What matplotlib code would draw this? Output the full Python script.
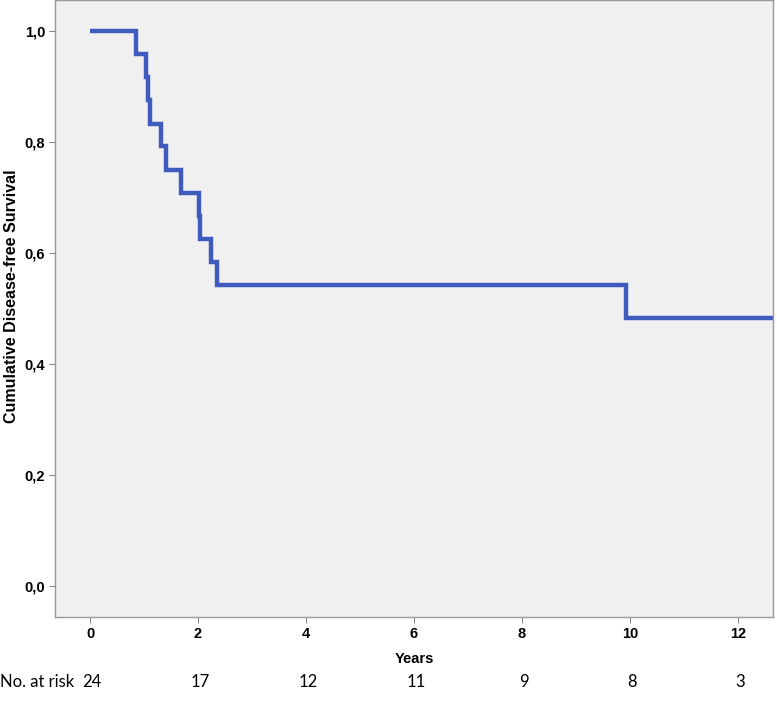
import matplotlib
matplotlib.use("Agg")
import matplotlib.pyplot as plt

# Kaplan-Meier step data
times = [0.0, 0.85, 1.03, 1.08, 1.12, 1.31, 1.41, 1.69, 2.01, 2.03, 2.25, 2.36, 9.92, 12.65]
survival = [1.0, 0.958, 0.917, 0.875, 0.833, 0.792, 0.75, 0.708, 0.667, 0.625, 0.583, 0.542, 0.482, 0.482]

x_ticks = [0, 2, 4, 6, 8, 10, 12]
y_ticks = [0.0, 0.2, 0.4, 0.6, 0.8, 1.0]
y_tick_labels = ["0,0", "0,2", "0,4", "0,6", "0,8", "1,0"]
at_risk = [24, 17, 12, 11, 9, 8, 3]

fig = plt.figure(figsize=(7.77, 7.02), dpi=100)
ax = fig.add_axes([0.0708, 0.1211, 0.9241, 0.8789])
ax.set_facecolor("#f0f0f0")

ax.step(times, survival, where="post", color="#3f5bbd", linewidth=3.2,
        solid_capstyle="butt", solid_joinstyle="miter")

ax.set_xlim(-0.648, 12.65)
ax.set_ylim(-0.056, 1.056)
ax.set_xticks(x_ticks)
ax.set_xticklabels([str(t) for t in x_ticks], fontweight="bold",
                   fontsize=10.5, family="Liberation Sans")
ax.set_yticks(y_ticks)
ax.set_yticklabels(y_tick_labels, fontweight="bold", fontsize=10.5,
                   family="Liberation Sans")
ax.tick_params(axis="both", length=4, width=0.8, color="#888888", pad=3)

for s in ax.spines.values():
    s.set_color("#999999")
    s.set_linewidth(1.0)

ax.set_xlabel("Years", fontweight="bold", fontsize=10.5, family="Liberation Sans")
ax.xaxis.set_label_coords(0.5, -(652 - 617) / 617)
ax.set_ylabel("Cumulative Disease-free Survival", fontweight="bold", fontsize=11.5,
              family="Liberation Sans")
ax.yaxis.set_label_coords(-(55 - 19) / 718, (617 - 296) / 617)

# number at risk row
fig.text(0.0, 1 - 682 / 702, "No. at risk", fontsize=12, family="Lato",
         va="center", ha="left")
for t, n in zip(x_ticks, at_risk):
    ax.annotate(str(n), xy=(t, 0), xycoords=("data", "axes fraction"),
                xytext=(2, -(682 - 617)), textcoords="offset pixels",
                ha="center", va="center", fontsize=12, family="Lato",
                annotation_clip=False)

fig.savefig("out.png", dpi=100)
